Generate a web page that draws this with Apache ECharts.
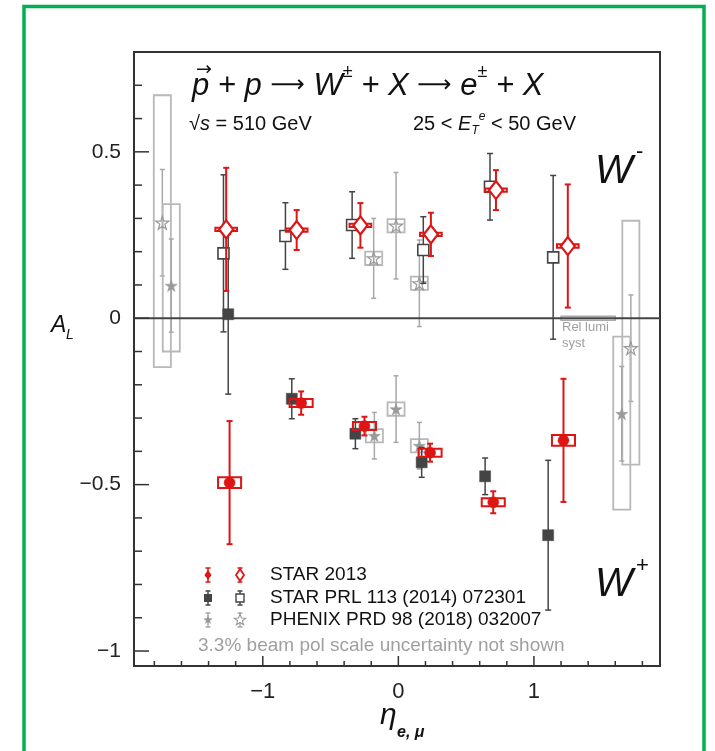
<!DOCTYPE html>
<html><head><meta charset="utf-8">
<script src="https://cdn.jsdelivr.net/npm/echarts@6/dist/echarts.min.js"></script>
<style>html,body{margin:0;padding:0;background:#fff}#c{width:715px;height:751px}</style>
</head><body><div id="c"></div>
<script>
// ---------------- data ----------------
// STAR 2013 (red): W- open diamonds, W+ filled circles
const star13WmEta = [-1.27, -0.75, -0.28, 0.24, 0.72, 1.25];
const star13WmAL  = [0.267, 0.265, 0.279, 0.252, 0.385, 0.217];
const star13WmErr = [0.185, 0.06, 0.067, 0.065, 0.06, 0.185];
const star13WmSys = [0.005, 0.005, 0.005, 0.005, 0.005, 0.005];
const star13WpEta = [-1.245, -0.717, -0.25, 0.234, 0.70, 1.218];
const star13WpAL  = [-0.494, -0.255, -0.324, -0.404, -0.553, -0.367];
const star13WpErr = [0.185, 0.035, 0.028, 0.027, 0.033, 0.185];
const star13WpSys = [0.016, 0.012, 0.012, 0.012, 0.012, 0.016];
// STAR PRL 113 (2014) 072301 (dark grey): W- open squares, W+ filled squares
const star14WmEta = [-1.29, -0.833, -0.341, 0.184, 0.676, 1.142];
const star14WmAL  = [0.195, 0.247, 0.28, 0.205, 0.395, 0.183];
const star14WmErr = [0.236, 0.1, 0.1, 0.1, 0.1, 0.246];
const star14WpEta = [-1.255, -0.786, -0.317, 0.172, 0.64, 1.105];
const star14WpAL  = [0.012, -0.242, -0.347, -0.433, -0.475, -0.652];
const star14WpErr = [0.24, 0.06, 0.045, 0.045, 0.055, 0.225];
// PHENIX PRD 98 (2018) 032007 (light grey): open and filled stars with syst boxes
const phxOpenEta   = [-1.741, -0.182, -0.017, 0.155, 1.715];
const phxOpenAL    = [0.287, 0.18, 0.278, 0.105, -0.09];
const phxOpenErr   = [0.16, 0.12, 0.16, 0.13, 0.16];
const phxOpenSysLo = [-0.147, 0.16, 0.258, 0.085, -0.44];
const phxOpenSysHi = [0.67, 0.2, 0.298, 0.125, 0.293];
const phxFillEta   = [-1.675, -0.177, -0.017, 0.155, 1.648];
const phxFillAL    = [0.098, -0.353, -0.273, -0.383, -0.287];
const phxFillErr   = [0.14, 0.07, 0.1, 0.07, 0.142];
const phxFillSysLo = [-0.1, -0.373, -0.293, -0.403, -0.575];
const phxFillSysHi = [0.343, -0.333, -0.253, -0.363, -0.055];
// relative luminosity systematic band
const relLumiEta = [1.2, 1.6];
const relLumiSys = 0.006;
// axis ticks
const xMajorTicks = [-1, 0, 1];
const xMinorTicks = [-1.8, -1.6, -1.4, -1.2, -0.8, -0.6, -0.4, -0.2, 0.2, 0.4, 0.6, 0.8, 1.2, 1.4, 1.6, 1.8];
const yMajorTicks = [-1, -0.5, 0, 0.5];
const yMinorTicks = [-0.9, -0.8, -0.7, -0.6, -0.4, -0.3, -0.2, -0.1, 0.1, 0.2, 0.3, 0.4, 0.6, 0.7];
const X_MIN = -1.95, X_MAX = 1.93, Y_MIN = -1.045, Y_MAX = 0.8;

// ---------------- styles ----------------
const RED = '#dd1515', DARK = '#444444', LIGHT = '#a8a8a8', FRAME = '#333333';
const FONT = '"Liberation Sans", Arial, Helvetica, sans-serif';
const ARROWFONT = '"DejaVu Sans", sans-serif';
const STAR = 'path://M50,0 L61.8,35.4 L99,35.4 L69,57.3 L80.4,92.7 L50,70.8 L19.6,92.7 L31,57.3 L1,35.4 L38.2,35.4 Z';

function zip(eta, al, err, lo, hi) {
  return eta.map((x, i) => [x, al[i], err[i], lo ? lo[i] : NaN, hi ? hi[i] : NaN]);
}
function symSys(eta, al, sys) {
  return { lo: al.map((v, i) => v - sys[i]), hi: al.map((v, i) => v + sys[i]) };
}

function errRender(color, lineW, capHalf, boxColor, boxHalfX, boxW) {
  return function (params, api) {
    const x = api.value(0), y = api.value(1), e = api.value(2), lo = api.value(3), hi = api.value(4);
    const c = api.coord([x, y]);
    const t = api.coord([x, y + e]), b = api.coord([x, y - e]);
    const ch = [];
    if (!isNaN(lo) && !isNaN(hi)) {
      const p1 = api.coord([x - boxHalfX, hi]), p2 = api.coord([x + boxHalfX, lo]);
      ch.push({ type: 'rect', shape: { x: p1[0], y: p1[1], width: p2[0] - p1[0], height: p2[1] - p1[1] },
        style: { fill: 'none', stroke: boxColor, lineWidth: boxW } });
    }
    ch.push({ type: 'line', shape: { x1: c[0], y1: t[1], x2: c[0], y2: b[1] }, style: { stroke: color, lineWidth: lineW } });
    ch.push({ type: 'line', shape: { x1: c[0] - capHalf, y1: t[1], x2: c[0] + capHalf, y2: t[1] }, style: { stroke: color, lineWidth: lineW } });
    ch.push({ type: 'line', shape: { x1: c[0] - capHalf, y1: b[1], x2: c[0] + capHalf, y2: b[1] }, style: { stroke: color, lineWidth: lineW } });
    return { type: 'group', children: ch };
  };
}
function errSeries(data, color, lineW, capHalf, boxColor, boxHalfX, boxW, z) {
  return { type: 'custom', data: data, encode: { x: 0, y: 1 }, z: z, clip: false, silent: true,
    renderItem: errRender(color, lineW, capHalf, boxColor, boxHalfX, boxW) };
}
function markSeries(eta, al, symbol, size, fill, stroke, bw, z) {
  return { type: 'scatter', data: eta.map((x, i) => [x, al[i]]), symbol: symbol, symbolSize: size, z: z, silent: true,
    itemStyle: { color: fill, borderColor: stroke, borderWidth: bw, opacity: 1 } };
}
function tickSeries(vals, axis, len) {
  return { type: 'custom', z: 10, clip: false, silent: true,
    data: vals.map(v => axis === 'x' ? [v, Y_MIN] : [X_MIN, v]), encode: { x: 0, y: 1 },
    renderItem: function (p, api) {
      const c = api.coord([api.value(0), api.value(1)]);
      const sh = axis === 'x' ? { x1: c[0], y1: c[1], x2: c[0], y2: c[1] - len } : { x1: c[0], y1: c[1], x2: c[0] + len, y2: c[1] };
      return { type: 'line', shape: sh, style: { stroke: FRAME, lineWidth: 1.5 } };
    } };
}
const fmt = v => (v < 0 ? '\u2212' : '') + Math.abs(v);

const s13m = symSys(star13WmEta, star13WmAL, star13WmSys);
const s13p = symSys(star13WpEta, star13WpAL, star13WpSys);

const series = [
  // PHENIX
  errSeries(zip(phxOpenEta, phxOpenAL, phxOpenErr, phxOpenSysLo, phxOpenSysHi), LIGHT, 1.5, 2.5, '#b8b8b8', 0.063, 1.8, 2),
  errSeries(zip(phxFillEta, phxFillAL, phxFillErr, phxFillSysLo, phxFillSysHi), LIGHT, 1.5, 2.5, '#b8b8b8', 0.063, 1.8, 2),
  markSeries(phxOpenEta, phxOpenAL, STAR, 13, 'rgba(255,255,255,0)', '#999', 1.2, 3),
  markSeries(phxFillEta, phxFillAL, STAR, 12, '#999', '#999', 0.5, 3),
  // STAR 2014
  errSeries(zip(star14WmEta, star14WmAL, star14WmErr), DARK, 1.5, 3, DARK, 0.08, 1.5, 4),
  errSeries(zip(star14WpEta, star14WpAL, star14WpErr), DARK, 1.5, 3, DARK, 0.08, 1.5, 4),
  markSeries(star14WmEta, star14WmAL, 'rect', 11, '#fff', DARK, 1.6, 5),
  markSeries(star14WpEta, star14WpAL, 'rect', 11, DARK, DARK, 0.5, 5),
  // STAR 2013
  errSeries(zip(star13WmEta, star13WmAL, star13WmErr, s13m.lo, s13m.hi), RED, 2, 3, RED, 0.08, 2, 6),
  errSeries(zip(star13WpEta, star13WpAL, star13WpErr, s13p.lo, s13p.hi), RED, 2, 3, RED, 0.085, 2, 6),
  markSeries(star13WmEta, star13WmAL, 'diamond', [14, 18], '#fff', RED, 2.2, 7),
  markSeries(star13WpEta, star13WpAL, 'circle', 11, RED, RED, 0.5, 7),
  // rel lumi band
  { type: 'custom', z: 3, clip: false, silent: true, data: [[relLumiEta[0], relLumiEta[1], relLumiSys]], encode: { x: 0 },
    renderItem: function (p, api) {
      const a = api.coord([api.value(0), api.value(2)]), b = api.coord([api.value(1), -api.value(2)]);
      return { type: 'rect', shape: { x: a[0], y: a[1], width: b[0] - a[0], height: b[1] - a[1] }, style: { fill: 'none', stroke: '#aaa', lineWidth: 1.5 } };
    } },
  // zero line
  { type: 'custom', z: 3, clip: false, silent: true, data: [[X_MIN, X_MAX, 0]], encode: { x: 0 },
    renderItem: function (p, api) {
      const a = api.coord([api.value(0), api.value(2)]), b = api.coord([api.value(1), api.value(2)]);
      return { type: 'line', shape: { x1: a[0], y1: a[1], x2: b[0], y2: b[1] }, style: { stroke: '#444', lineWidth: 1.8 } };
    } },
  tickSeries(xMinorTicks, 'x', 5),
  tickSeries(xMajorTicks, 'x', 10),
  tickSeries(yMinorTicks, 'y', 8),
  tickSeries(yMajorTicks, 'y', 15)
];

// legend icons (drawn as graphic)
function starPts(cx, cy, R) {
  const pts = [];
  for (let i = 0; i < 10; i++) {
    const r = i % 2 ? R * 0.42 : R, a = -Math.PI / 2 + i * Math.PI / 5;
    pts.push([cx + r * Math.cos(a), cy + r * Math.sin(a)]);
  }
  return pts;
}
function legBar(x, y, color, h) {
  return [
    { type: 'line', shape: { x1: x, y1: y - h, x2: x, y2: y + h }, style: { stroke: color, lineWidth: 1.5 } },
    { type: 'line', shape: { x1: x - 2.5, y1: y - h, x2: x + 2.5, y2: y - h }, style: { stroke: color, lineWidth: 1.5 } },
    { type: 'line', shape: { x1: x - 2.5, y1: y + h, x2: x + 2.5, y2: y + h }, style: { stroke: color, lineWidth: 1.5 } }
  ];
}
const LX1 = 208, LX2 = 240, LY = [575, 598, 620];
const legend = [].concat(
  legBar(LX1, LY[0], RED, 7), [{ type: 'polygon', shape: { points: [[LX1, LY[0] - 5], [LX1 + 3.5, LY[0]], [LX1, LY[0] + 5], [LX1 - 3.5, LY[0]]] }, style: { fill: RED } }],
  legBar(LX2, LY[0], RED, 7), [{ type: 'polygon', shape: { points: [[LX2, LY[0] - 6], [LX2 + 4, LY[0]], [LX2, LY[0] + 6], [LX2 - 4, LY[0]]] }, style: { fill: '#fff', stroke: RED, lineWidth: 1.8 } }],
  legBar(LX1, LY[1], DARK, 7), [{ type: 'rect', shape: { x: LX1 - 4, y: LY[1] - 4, width: 8, height: 8 }, style: { fill: DARK } }],
  legBar(LX2, LY[1], DARK, 7), [{ type: 'rect', shape: { x: LX2 - 4, y: LY[1] - 4, width: 8, height: 8 }, style: { fill: '#fff', stroke: DARK, lineWidth: 1.4 } }],
  legBar(LX1, LY[2], LIGHT, 7), [{ type: 'polygon', shape: { points: starPts(LX1, LY[2], 5) }, style: { fill: '#999' } }],
  legBar(LX2, LY[2], LIGHT, 7), [{ type: 'polygon', shape: { points: starPts(LX2, LY[2], 6) }, style: { fill: '#fff', stroke: '#999', lineWidth: 1.1 } }]
);
legend.forEach(g => { g.z = 20; });

const txt = (x, y, text, size, opts) => Object.assign({ type: 'text', x: x, y: y, z: 20,
  style: Object.assign({ text: text, fontSize: size, fontFamily: FONT, fill: '#111', verticalAlign: 'middle' }, opts || {}) });

const graphic = [
  { type: 'rect', shape: { x: 24, y: 6.5, width: 680, height: 770 }, style: { fill: 'none', stroke: '#00b050', lineWidth: 3.5 }, z: 30 },
  // title
  txt(192, 86, '{i|p + p }{a|\u27f6}{i| W}{s|\u00b1}{i| + X }{a|\u27f6}{i| e}{s|\u00b1}{i| + X}', 31, { rich: {
      i: { fontSize: 31, fontStyle: 'italic', fontFamily: FONT, fill: '#111' },
      a: { fontSize: 24, fontFamily: ARROWFONT, fill: '#111' },
      s: { fontSize: 18, fontFamily: FONT, fill: '#111', verticalAlign: 'top', lineHeight: 46 } } }),
  txt(196, 70, '\u2192', 19, { fontFamily: ARROWFONT }),
  txt(189, 124, '{a|\u221As} = 510 GeV', 20, { rich: { a: { fontSize: 20, fontStyle: 'italic', fontFamily: FONT, fill: '#111' } } }),
  txt(413, 124, '25 < {e|E}{t|T}{u|e} < 50 GeV', 20, { rich: {
      e: { fontSize: 20, fontStyle: 'italic', fontFamily: FONT, fill: '#111' },
      t: { fontSize: 12, fontStyle: 'italic', fontFamily: FONT, fill: '#111', padding: [14, 0, 0, 0] },
      u: { fontSize: 12, fontStyle: 'italic', fontFamily: FONT, fill: '#111', padding: [0, 0, 14, 0] } } }),
  // W labels
  txt(595, 172, 'W', 40, { fontStyle: 'italic' }),
  txt(636, 152, '-', 22, {}),
  txt(595, 585, 'W', 40, { fontStyle: 'italic' }),
  txt(636, 566, '+', 22, {}),
  // axis titles
  txt(51, 326, 'A', 23, { fontStyle: 'italic' }),
  txt(66, 335, 'L', 14, { fontStyle: 'italic' }),
  txt(380, 716, '\u03b7', 30, { fontStyle: 'italic' }),
  txt(397, 733, 'e, \u03bc', 16, { fontStyle: 'italic', fontWeight: 'bold' }),
  // rel lumi
  txt(562, 327, 'Rel lumi', 13, { fill: '#a0a0a0' }),
  txt(562, 343, 'syst', 13, { fill: '#a0a0a0' }),
  // legend text
  txt(270, LY[0], 'STAR 2013', 19, {}),
  txt(270, LY[1], 'STAR PRL 113 (2014) 072301', 19, {}),
  txt(270, LY[2], 'PHENIX PRD 98 (2018) 032007', 19, {}),
  txt(198, 646, '3.3% beam pol scale uncertainty not shown', 19, { fill: '#a0a0a0' })
].concat(legend);

const chart = echarts.init(document.getElementById('c'));
chart.setOption({
  animation: false,
  backgroundColor: '#fff',
  grid: { left: 134, right: 55, top: 52, bottom: 85, show: true, borderColor: FRAME, borderWidth: 2, backgroundColor: 'transparent' },
  xAxis: { type: 'value', min: X_MIN, max: X_MAX,
    axisLine: { show: true, onZero: false, lineStyle: { color: FRAME, width: 2 } },
    axisTick: { show: false }, splitLine: { show: false },
    axisLabel: { customValues: xMajorTicks, formatter: fmt, fontSize: 22, color: '#222', fontFamily: FONT, margin: 15 } },
  yAxis: { type: 'value', min: Y_MIN, max: Y_MAX,
    axisLine: { show: true, onZero: false, lineStyle: { color: FRAME, width: 2 } },
    axisTick: { show: false }, splitLine: { show: false },
    axisLabel: { customValues: yMajorTicks, formatter: fmt, fontSize: 21, color: '#222', fontFamily: FONT, margin: 13 } },
  series: series,
  graphic: graphic
});
</script></body></html>
